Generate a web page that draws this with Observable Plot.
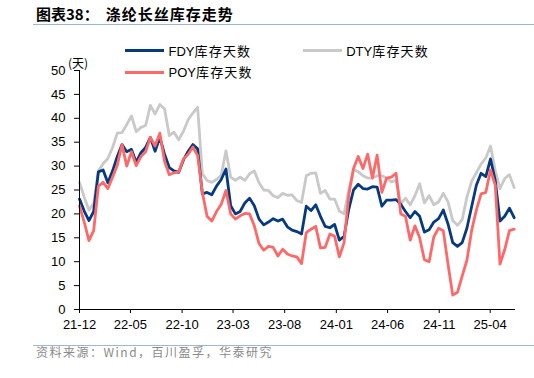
<!DOCTYPE html>
<html><head><meta charset="utf-8">
<script src="https://cdn.jsdelivr.net/npm/d3@7"></script>
<script src="https://cdn.jsdelivr.net/npm/@observablehq/plot@0.6"></script>
<style>
body{margin:0;background:#fff;}
#wrap{position:relative;width:534px;height:378px;overflow:hidden;font-family:"Liberation Sans",Arial,"Noto Sans CJK SC",sans-serif;}
#title{position:absolute;left:36px;top:5px;font-family:"Noto Sans CJK SC",sans-serif;font-weight:bold;font-size:15px;line-height:18px;color:#000;white-space:nowrap;}
#title .b{letter-spacing:1px;margin-left:7px;}
.rule{position:absolute;left:33px;right:0;height:0;border-top:1px solid #9fb7cf;}
#chart{position:absolute;left:0;top:26px;}
.sw{position:absolute;width:39px;height:3px;}
.lt{position:absolute;font-size:13px;line-height:16px;color:#000;white-space:nowrap;}
.lt span{font-family:"Noto Sans CJK SC",sans-serif;letter-spacing:1.2px;}
#unit{position:absolute;left:68px;top:55px;font-size:12px;line-height:16px;font-family:"Noto Sans CJK SC",sans-serif;color:#000;}
#src{position:absolute;left:36px;top:345px;font-size:12px;line-height:14px;color:#8a8a8a;letter-spacing:1.5px;font-family:"Noto Sans CJK SC","Liberation Sans",sans-serif;white-space:nowrap;}
</style></head>
<body>
<div id="wrap">
  <div id="title">图表38：<span class="b">涤纶长丝库存走势</span></div>
  <div class="rule" style="top:24px"></div>
  <div id="chart"></div>
  <div id="unit">(天)</div>
  <div id="legend"></div>
  <div class="rule" style="top:345px"></div>
  <div id="src">资料来源：Wind，百川盈孚，华泰研究</div>
</div>
<script>
const seriesNames = ["FDY库存天数", "DTY库存天数", "POY库存天数"];
const seriesColors = ["#053a80", "#c9c9c9", "#ff6868"];
const tickLabels = ["21-12","22-05","22-10","23-03","23-08","24-01","24-06","24-11","25-04"];
const yTicks = [0,5,10,15,20,25,30,35,40,45,50];

// biweekly readings starting 2021-12-01
const fdy = [23.1, 20.6, 18.6, 20.5, 28.8, 29.2, 26.5, 29.0, 32.0, 34.5,
 33.0, 33.5, 30.8, 32.8, 33.9, 36.0, 33.1, 36.0, 32.5, 29.7,
 29.0, 28.7, 31.3, 33.1, 34.5, 33.6, 24.2, 24.5, 24.0, 25.8,
 27.2, 29.4, 21.7, 20.0, 20.5, 22.3, 23.3, 21.7, 18.9, 17.7,
 18.3, 19.0, 18.5, 18.9, 17.3, 16.6, 16.3, 15.8, 21.6, 20.7,
 21.9, 19.5, 17.4, 17.1, 17.8, 14.5, 15.3, 21.0, 25.0, 26.2,
 25.3, 25.2, 25.7, 25.6, 21.6, 22.9, 22.9, 23.0, 22.0, 20.5,
 19.2, 20.5, 19.5, 16.2, 16.7, 18.3, 19.0, 20.8, 17.9, 14.0,
 13.2, 14.0, 17.0, 21.5, 26.0, 28.5, 27.8, 31.5, 27.0, 18.5,
 19.5, 21.2, 19.2];
const dty = [26.6, 23.5, 20.8, 22.2, 29.0, 30.5, 31.6, 33.9, 36.9, 37.0,
 38.7, 40.5, 37.2, 38.1, 38.5, 42.7, 40.9, 42.9, 42.0, 36.4,
 37.1, 35.5, 37.3, 39.7, 41.1, 42.3, 28.4, 27.0, 26.6, 27.2,
 28.1, 33.2, 27.7, 27.0, 27.7, 27.0, 28.4, 29.0, 26.5, 25.0,
 24.9, 23.8, 23.4, 24.3, 23.9, 24.0, 22.8, 22.4, 28.0, 28.5,
 28.6, 24.3, 24.9, 23.1, 23.1, 20.6, 20.0, 25.0, 29.3, 28.8,
 28.0, 27.5, 27.5, 28.0, 28.0, 27.5, 26.7, 27.0, 22.1, 23.3,
 21.9, 23.8, 26.3, 22.3, 23.8, 21.9, 22.5, 24.3, 22.5, 18.6,
 17.6, 18.8, 23.5, 26.8, 28.6, 30.4, 31.7, 34.2, 29.0, 25.3,
 27.4, 28.2, 25.5];
const poy = [21.7, 18.3, 14.4, 16.5, 25.8, 26.6, 25.3, 27.7, 30.2, 34.5,
 30.0, 33.0, 30.1, 32.0, 33.0, 36.0, 34.2, 36.9, 31.0, 28.2,
 28.6, 28.8, 31.5, 32.5, 34.0, 32.2, 24.5, 19.5, 18.5, 20.5,
 22.0, 24.9, 20.0, 18.9, 19.6, 20.1, 20.0, 17.5, 13.8, 12.4,
 13.2, 13.0, 11.2, 12.6, 11.6, 11.2, 11.0, 9.6, 16.1, 16.8,
 17.4, 12.9, 13.0, 15.8, 15.3, 11.0, 14.0, 24.0, 29.5, 32.0,
 29.5, 32.5, 27.5, 32.3, 24.5, 27.5, 27.7, 28.5, 20.0, 19.5,
 14.5, 17.5, 15.0, 10.4, 10.0, 15.2, 17.0, 16.5, 9.5, 3.0,
 3.6, 7.0, 10.3, 16.5, 20.8, 24.2, 24.5, 29.2, 26.0, 9.5,
 12.5, 16.5, 16.8];

const startDate = new Date(Date.UTC(2021, 11, 1));
const endDate = new Date(Date.UTC(2025, 5, 15));
const dates = fdy.map((_, i) => d3.utcDay.offset(startDate, 14 * i));
const rows = dates.map((date, i) => ({date, FDY: fdy[i], DTY: dty[i], POY: poy[i]}));
const tickDates = tickLabels.map(s => new Date(Date.UTC(2000 + +s.slice(0, 2), +s.slice(3) - 1, 1)));
const labelOf = new Map(tickDates.map((d, i) => [+d, tickLabels[i]]));

const chart = Plot.plot({
  width: 534, height: 319,
  marginTop: 44, marginRight: 19, marginBottom: 36, marginLeft: 79,
  style: {fontFamily: '"Liberation Sans", Arial, sans-serif', fontSize: "13px", color: "#000", background: "transparent", overflow: "visible"},
  x: {type: "utc", domain: [startDate, endDate]},
  y: {domain: [0, 50]},
  marks: [
    Plot.axisY({ticks: yTicks, tickSize: 5, tickPadding: 9, label: null, stroke: "#000", fill: "#000"}),
    Plot.axisX({ticks: tickDates, tickFormat: d => labelOf.get(+d), tickSize: 4, tickPadding: 6, label: null, stroke: "#000", fill: "#000"}),
    Plot.line(rows, {x: "date", y: "DTY", stroke: seriesColors[1], strokeWidth: 2.8}),
    Plot.line(rows, {x: "date", y: "FDY", stroke: seriesColors[0], strokeWidth: 2.8}),
    Plot.line(rows, {x: "date", y: "POY", stroke: seriesColors[2], strokeWidth: 2.8}),
    Plot.ruleY([0], {stroke: "#000", strokeWidth: 1}),
    Plot.ruleX([startDate], {y1: 0, y2: 50, stroke: "#000", strokeWidth: 1})
  ]
});
document.getElementById("chart").appendChild(chart);

// legend
const legendPos = [[125, 49], [302.7, 49], [125, 70.5]];
const leg = document.getElementById("legend");
seriesNames.forEach((name, i) => {
  const [lx, ly] = legendPos[i];
  const sw = document.createElement("div");
  sw.className = "sw";
  sw.style.left = lx + "px"; sw.style.top = ly + "px"; sw.style.background = seriesColors[i];
  leg.appendChild(sw);
  const t = document.createElement("div");
  t.className = "lt";
  t.style.left = (lx + 43.5) + "px"; t.style.top = (ly - 6.5) + "px";
  t.innerHTML = name.slice(0, 3) + "<span>" + name.slice(3) + "</span>";
  leg.appendChild(t);
});
</script>
</body></html>
